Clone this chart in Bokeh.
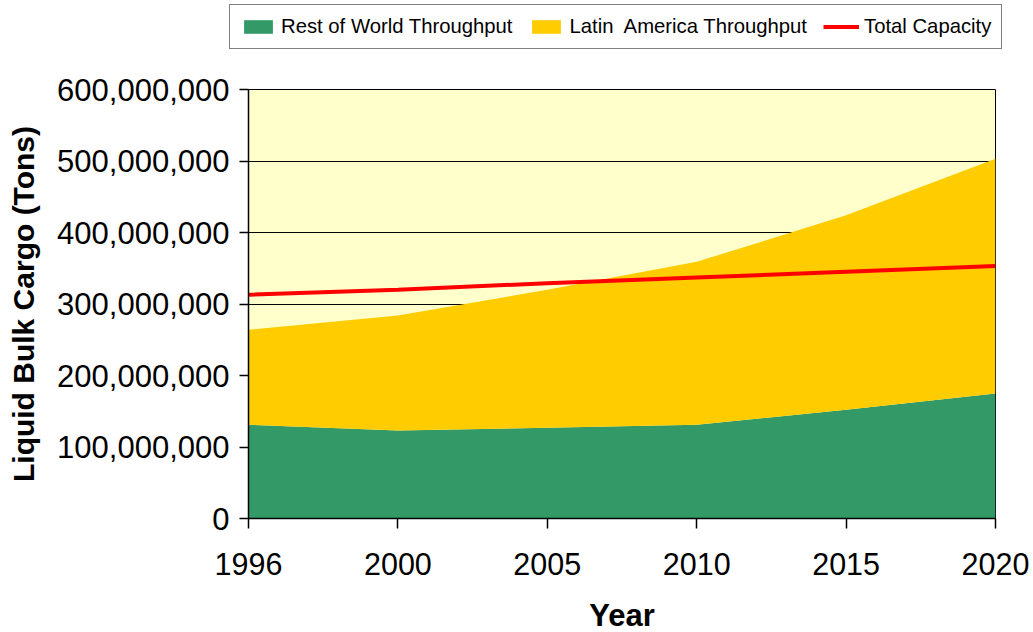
from bokeh.plotting import figure
from bokeh.layouts import column, row
from bokeh.models import (ColumnDataSource, Legend, LegendItem, NumeralTickFormatter,
                          FixedTicker, Range1d)
from bokeh.embed import file_html
from bokeh.resources import INLINE

# Liquid bulk cargo throughput and capacity, in tons
years = ["1996", "2000", "2005", "2010", "2015", "2020"]
rest_of_world = [131e6, 123e6, 127e6, 131e6, 152e6, 175e6]
latin_america = [133e6, 161e6, 193e6, 228e6, 272e6, 328e6]
total_capacity = [313e6, 320e6, 329e6, 337e6, 345e6, 353e6]
y_ticks = [0, 100e6, 200e6, 300e6, 400e6, 500e6, 600e6]

series_names = ["Rest of World Throughput", "Latin  America Throughput", "Total Capacity"]
series_colors = ["#339966", "#FFCC00", "#FF0000"]

xpos = list(range(len(years)))
src = ColumnDataSource(dict(x=xpos, rest=rest_of_world, latin=latin_america,
                            cap=total_capacity))

FONT = "Liberation Sans"

# ---- main chart ----
p = figure(frame_width=747, frame_height=429,
           min_border_left=248, min_border_right=38,
           min_border_top=20, min_border_bottom=114,
           x_range=Range1d(0, len(years) - 1), y_range=Range1d(0, 600e6),
           output_backend="svg", toolbar_location=None)

p.background_fill_color = "#FFFFCC"
p.border_fill_color = "white"
p.outline_line_color = "black"
p.outline_line_width = 1

areas = p.varea_stack(["rest", "latin"], x="x", source=src,
                      color=series_colors[:2])
cap_line = p.line("x", "cap", source=src, line_color=series_colors[2], line_width=4)

p.xgrid.visible = False
p.ygrid.ticker = FixedTicker(ticks=y_ticks)
p.ygrid.grid_line_color = "black"
p.ygrid.grid_line_width = 1
p.ygrid.level = "underlay"

p.xaxis.ticker = FixedTicker(ticks=xpos)
p.xaxis.major_label_overrides = {i: y for i, y in enumerate(years)}
p.xaxis.axis_label = "Year"
p.xaxis.minor_tick_line_color = None
p.xaxis.major_tick_in = 0
p.xaxis.major_tick_out = 10
p.xaxis.major_label_standoff = 24
p.xaxis.axis_label_standoff = 20
p.xaxis.major_label_text_font_size = "30.5px"
p.xaxis.axis_label_text_font_size = "31px"

p.yaxis.ticker = FixedTicker(ticks=y_ticks)
p.yaxis.formatter = NumeralTickFormatter(format="0,0")
p.yaxis.axis_label = "Liquid Bulk Cargo (Tons)"
p.yaxis.minor_tick_line_color = None
p.yaxis.major_tick_in = 0
p.yaxis.major_tick_out = 9
p.yaxis.major_label_standoff = 10
p.yaxis.axis_label_standoff = 14
p.yaxis.major_label_text_font_size = "31px"
p.yaxis.axis_label_text_font_size = "30px"

for ax in (p.xaxis, p.yaxis):
    ax.axis_line_color = "black"
    ax.axis_line_width = 1.5
    ax.major_tick_line_color = "black"
    ax.major_tick_line_width = 1.5
    ax.major_label_text_font = FONT
    ax.major_label_text_color = "black"
    ax.axis_label_text_font = FONT
    ax.axis_label_text_font_style = "bold"
    ax.axis_label_text_color = "black"

# ---- legend strip above the chart ----
lg = figure(width=1033, height=69, min_border=0,
            x_range=Range1d(0, 1), y_range=Range1d(0, 1),
            x_axis_type=None, y_axis_type=None,
            output_backend="svg", toolbar_location=None)
lg.outline_line_color = None
lg.grid.visible = False
lg.background_fill_color = "white"

# key glyphs sit outside the visible range; they only feed the legend swatches
k_rest = lg.varea(x=[-5, -4], y1=[-5, -5], y2=[-4, -4], color=series_colors[0])
k_latin = lg.varea(x=[-5, -4], y1=[-5, -5], y2=[-4, -4], color=series_colors[1])
k_cap = lg.line(x=[-5, -4], y=[-5, -5], line_color=series_colors[2], line_width=4)

legend = Legend(items=[
    LegendItem(label=series_names[0], renderers=[k_rest]),
    LegendItem(label=series_names[1], renderers=[k_latin]),
    LegendItem(label=series_names[2], renderers=[k_cap]),
], orientation="horizontal", location=(229, 20))
legend.label_text_font = FONT
legend.label_text_font_size = "20.3px"
legend.label_text_color = "black"
legend.glyph_width = 36
legend.glyph_height = 17
legend.label_standoff = 5
legend.spacing = 16
legend.padding = 10
legend.margin = 0
legend.border_line_color = "black"
legend.border_line_width = 1
legend.background_fill_color = "white"
legend.background_fill_alpha = 1
lg.add_layout(legend, "center")

layout = column(row(lg), p, spacing=0)
open("out.html", "w").write(file_html(layout, INLINE))
